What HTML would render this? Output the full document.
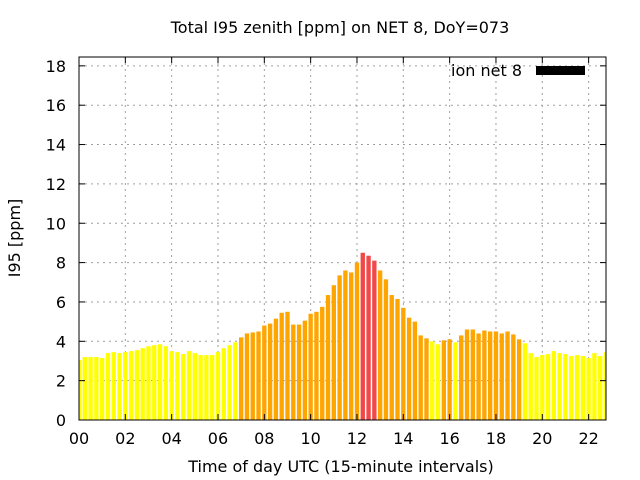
<!DOCTYPE html>
<html><head><meta charset="utf-8"><style>
body{margin:0;background:#fff}
svg{display:block;font-family:"DejaVu Sans","Liberation Sans",sans-serif}
</style></head><body>
<svg id="chart" width="640" height="480">
<text x="340" y="33" text-anchor="middle" font-size="16">Total I95 zenith [ppm] on NET 8, DoY=073</text>
<text x="341" y="472" text-anchor="middle" font-size="16">Time of day UTC (15-minute intervals)</text>
<text x="20" y="238" text-anchor="middle" font-size="16" transform="rotate(-90 20 238)">I95 [ppm]</text>
<g id="grid"></g><g id="bars"></g><g id="axes"></g>
<text x="522" y="76" text-anchor="end" font-size="16">ion net 8</text>
<rect x="536" y="66" width="49" height="9" fill="#000"/>
</svg>
<script>
const values=[3.05,3.2,3.2,3.2,3.15,3.4,3.45,3.4,3.45,3.5,3.55,3.65,3.75,3.8,3.85,3.75,3.5,3.45,3.35,3.5,3.4,3.3,3.3,3.3,3.45,3.65,3.8,3.95,4.2,4.4,4.45,4.5,4.8,4.9,5.15,5.45,5.5,4.85,4.85,5.05,5.4,5.5,5.75,6.35,6.85,7.35,7.6,7.5,8.0,8.5,8.35,8.1,7.6,7.15,6.35,6.15,5.7,5.2,5.0,4.3,4.15,4.0,3.85,4.05,4.1,3.95,4.3,4.6,4.6,4.4,4.55,4.5,4.5,4.4,4.5,4.35,4.1,3.9,3.4,3.2,3.3,3.35,3.5,3.4,3.35,3.25,3.3,3.25,3.15,3.4,3.25,3.45];
const xTicks=[0,2,4,6,8,10,12,14,16,18,20,22];
const xTickLabels=["00","02","04","06","08","10","12","14","16","18","20","22"];
const yTicks=[0,2,4,6,8,10,12,14,16,18];
const L=79,R=606,T=57,B=420,xMax=22.75,yMax=18.45;
const X=h=>L+h/xMax*(R-L), Y=v=>B-v/yMax*(B-T);
const NS="http://www.w3.org/2000/svg";
function mk(t,a,p){const e=document.createElementNS(NS,t);for(const k in a)e.setAttribute(k,a[k]);p.appendChild(e);return e;}
const g=document.getElementById('grid'),bg=document.getElementById('bars'),ax=document.getElementById('axes');
xTicks.forEach((t,i)=>{const x=X(t);
 const gl=mk('line',{x1:x,x2:x,y1:T,y2:B,stroke:'#a0a0a0','stroke-dasharray':'2,4'},g);
 
 mk('line',{x1:x,x2:x,y1:B,y2:B-6,stroke:'#000'},ax);mk('line',{x1:x,x2:x,y1:T,y2:T+6,stroke:'#000'},ax);
 const tx=mk('text',{x:x,y:B+24,'text-anchor':'middle','font-size':16},ax);tx.textContent=xTickLabels[i];
 });
yTicks.forEach(t=>{const y=Y(t);
 if(t>0){const gl=mk('line',{x1:L,x2:R,y1:y,y2:y,stroke:'#a0a0a0','stroke-dasharray':'2,4'},g);
 }
 mk('line',{x1:L,x2:L+6,y1:y,y2:y,stroke:'#000'},ax);mk('line',{x1:R,x2:R-6,y1:y,y2:y,stroke:'#000'},ax);
 const tx=mk('text',{x:L-13,y:y+6,'text-anchor':'end','font-size':16},ax);tx.textContent=t;
 });
const cp=mk('clipPath',{id:'pc'},document.getElementById('chart'));mk('rect',{x:L,y:T,width:R-L,height:B-T},cp);
bg.setAttribute('clip-path','url(#pc)');
const bw=(X(0.25)-X(0))*0.75;
values.forEach((v,i)=>{const x=X(i*0.25);const c=v>8?'#f04848':(v>4?'#ffa500':'#ffff00');
 const r=mk('rect',{x:x-bw/2,y:Y(v),width:bw,height:B-Y(v),fill:c},bg);
 
 });
const fr=mk('rect',{x:L,y:T,width:R-L,height:B-T,fill:'none',stroke:'#000','stroke-width':1},ax);


</script>
</body></html>
